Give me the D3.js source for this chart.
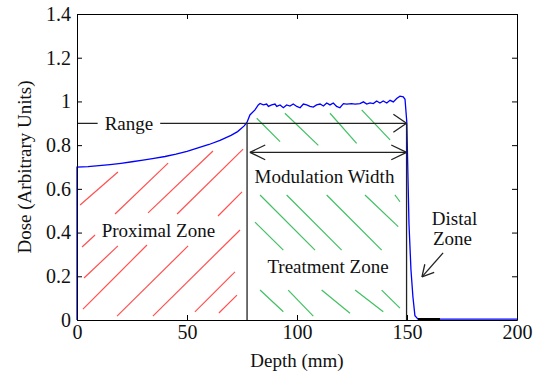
<!DOCTYPE html>
<html>
<head>
<meta charset="utf-8">
<script src="https://cdn.jsdelivr.net/npm/d3@7"></script>
<style>
  body { margin: 0; background: #fff; }
  text { font-family: "Liberation Serif", "Times New Roman", serif; fill: #111; }
</style>
</head>
<body>
<script>
// depth-dose curve
const depth = [0, 0, 5, 10, 15, 20, 25, 30, 35, 40, 45, 50, 55, 60, 65, 70, 73, 76, 77.3, 78.6, 80.9, 82.4,
  83.2, 84.7, 86.2, 87.0, 88.5, 90.0, 90.8, 92.3, 93.8, 95.3, 96.8, 98.3, 99.9, 101.4, 102.9, 104.4, 105.9,
  107.4, 108.9, 110.5, 112.0, 113.5, 115.0, 116.5, 118.0, 119.5, 121.1, 122.6, 124.8, 126.4, 128.6, 130.2,
  131.7, 133.2, 134.7, 136.2, 137.7, 139.2, 140.8, 142.3, 143.8, 145.3, 146.8, 148.3, 149.1, 149.9, 150.9,
  151.8, 152.7, 153.6, 155, 200]
const dose = [0, 0.700, 0.702, 0.706, 0.711, 0.717, 0.724, 0.731, 0.739, 0.748, 0.759, 0.772, 0.787, 0.803,
  0.822, 0.845, 0.862, 0.888, 0.905, 0.938, 0.961, 0.984,
  0.991, 0.984, 0.988, 0.977, 0.984, 0.988, 0.977, 0.984, 0.971, 0.984, 0.979, 0.988, 0.977, 0.971, 0.988,
  0.984, 0.977, 0.974, 0.984, 0.988, 0.979, 0.993, 0.984, 0.993, 0.977, 0.971, 0.990, 0.988, 0.990, 0.988,
  0.990, 0.998, 0.988, 0.993, 0.990, 1.002, 0.993, 1.002, 0.993, 1.005, 0.998, 1.013, 1.024, 1.021, 1.010,
  0.907, 0.44, 0.23, 0.105, 0.02, 0.004, 0.004]

// hatch strokes [depth1, dose1, depth2, dose2]
const proximalHatch = [
  [1.4, 0.526, 18.6, 0.677], [2.3, 0.334, 8.2, 0.389], [3.2, 0.192, 18.6, 0.339], [2.7, 0.050, 31.8, 0.343],
  [17.3, 0.485, 41.4, 0.718], [18.2, 0.018, 50.5, 0.339], [32.3, 0.490, 61.8, 0.773], [34.5, 0.018, 74.1, 0.412],
  [45.5, 0.485, 75.5, 0.782], [53.6, 0.037, 71.8, 0.220], [64.1, 0.476, 75.0, 0.586], [64.5, 0.032, 72.7, 0.114]
]
const treatmentHatch = [
  [81.7, 0.923, 92.3, 0.816], [94.5, 0.946, 109.7, 0.799], [115.0, 0.946, 127.1, 0.808], [129.4, 0.961, 142.3, 0.824],
  [83.2, 0.572, 108.2, 0.320], [80.9, 0.448, 93.8, 0.320], [95.3, 0.572, 120.3, 0.320], [113.5, 0.572, 138.5, 0.320],
  [130.9, 0.572, 146.0, 0.427], [144.5, 0.572, 146.8, 0.541],
  [83.2, 0.137, 93.8, 0.038], [96.0, 0.137, 107.4, 0.018], [111.2, 0.137, 124.1, 0.031], [126.4, 0.137, 139.2, 0.038],
  [138.5, 0.137, 146.8, 0.054]
]

const xTicks = [0, 50, 100, 150, 200]
const yTicks = [0, 0.2, 0.4, 0.6, 0.8, 1, 1.2, 1.4]

const rangeDose = 0.9
const modulationDose = 0.767
const proximalEnd = 77.3
const distalEnd = 149.8
const modulationStart = 78.6
const tailMark = [155, 165]
const distalArrow = [166.4, 0.307, 156.8, 0.197]

const labels = [
  {text: 'Modulation Width', depth: 112.5, dose: 0.625},
  {text: 'Proximal Zone', depth: 37, dose: 0.380},
  {text: 'Treatment Zone', depth: 114.1, dose: 0.215},
  {text: 'Distal', depth: 171.6, dose: 0.435},
  {text: 'Zone', depth: 170.7, dose: 0.343}
]
const rangeLabel = {text: 'Range', depth: 23.6, dose: 0.9}

const width = 537, height = 374
const plot = {left: 77, right: 517, top: 14, bottom: 320}

const svg = d3.select('body').append('svg')
  .attr('width', width)
  .attr('height', height)

const x = d3.scaleLinear().domain([0, 200]).range([plot.left, plot.right])
const y = d3.scaleLinear().domain([0, 1.4]).range([plot.bottom, plot.top])

const fmt = d => String(+d.toFixed(1))

// hatching
function drawHatch(data, color, cls) {
  svg.append('g')
    .attr('class', cls)
    .selectAll('line.' + cls)
    .data(data)
    .join('line')
      .attr('class', cls)
      .attr('x1', d => x(d[0])).attr('y1', d => y(d[1]))
      .attr('x2', d => x(d[2])).attr('y2', d => y(d[3]))
      .style('stroke', color)
      .style('stroke-width', '1.2px')
}
drawHatch(proximalHatch, '#ff5050', 'hatch-red')
drawHatch(treatmentHatch, '#40c062', 'hatch-green')

// dose curve
const line = d3.line().x((d, i) => x(depth[i])).y(d => y(d))
svg.append('path')
  .datum(dose)
  .attr('d', line)
  .attr('fill', 'none')
  .attr('stroke', '#0000ff')
  .attr('stroke-width', 1.3)

// zone boundaries
const ann = svg.append('g').attr('class', 'ann')
const annLine = () => ann.append('line').style('stroke', '#222').style('stroke-width', '1.3px')
annLine()
  .attr('x1', x(proximalEnd)).attr('x2', x(proximalEnd))
  .attr('y1', y(rangeDose)).attr('y2', y(0))
annLine()
  .attr('x1', x(distalEnd)).attr('x2', x(distalEnd))
  .attr('y1', y(rangeDose)).attr('y2', y(0))
annLine()
  .attr('x1', x(tailMark[0])).attr('x2', x(tailMark[1]))
  .attr('y1', y(0) - 1).attr('y2', y(0) - 1)
  .style('stroke', '#000').style('stroke-width', '2px')

function arrowHead(tx, ty, fx, fy, len, spread) {
  const a = Math.atan2(ty - fy, tx - fx)
  ;[-spread, spread].forEach(s => {
    annLine()
      .attr('x1', tx).attr('y1', ty)
      .attr('x2', tx - len * Math.cos(a + s))
      .attr('y2', ty - len * Math.sin(a + s))
  })
}

// range line
annLine()
  .attr('x1', x(0)).attr('x2', x(distalEnd))
  .attr('y1', y(rangeDose)).attr('y2', y(rangeDose))
arrowHead(x(distalEnd), y(rangeDose), x(0), y(rangeDose), 16, 0.6)

// modulation width
annLine()
  .attr('x1', x(modulationStart)).attr('x2', x(distalEnd))
  .attr('y1', y(modulationDose)).attr('y2', y(modulationDose))
arrowHead(x(modulationStart), y(modulationDose), x(distalEnd), y(modulationDose), 17, 0.45)
arrowHead(x(distalEnd), y(modulationDose), x(modulationStart), y(modulationDose), 17, 0.45)

// distal arrow
annLine()
  .attr('x1', x(distalArrow[0])).attr('y1', y(distalArrow[1]))
  .attr('x2', x(distalArrow[2])).attr('y2', y(distalArrow[3]))
arrowHead(x(distalArrow[2]), y(distalArrow[3]), x(distalArrow[0]), y(distalArrow[1]), 13, 0.5)

// labels
const rl = svg.append('text')
  .attr('x', x(rangeLabel.depth))
  .attr('y', y(rangeLabel.dose))
  .attr('dy', '0.35em')
  .attr('text-anchor', 'middle')
  .style('font-size', '19px')
  .text(rangeLabel.text)
const bb = rl.node().getBBox()
svg.insert('rect', 'text')
  .attr('x', bb.x - 7).attr('y', y(rangeLabel.dose) - 3)
  .attr('width', bb.width + 14).attr('height', 6)
  .attr('fill', '#fff')

svg.append('g')
  .selectAll('text')
  .data(labels)
  .join('text')
    .attr('x', d => x(d.depth))
    .attr('y', d => y(d.dose))
    .attr('text-anchor', 'middle')
    .style('font-size', '19px')
    .text(d => d.text)

// axes, boxed with inward ticks
const axisStyle = g => {
  g.selectAll('path, line').attr('stroke', '#000')
  g.selectAll('text').style('font-size', '20px').attr('fill', '#111')
  g.attr('font-family', null)
}
svg.append('g')
  .attr('transform', `translate(0,${plot.bottom})`)
  .call(d3.axisBottom(x).tickValues(xTicks).tickSizeInner(-5).tickSizeOuter(0).tickPadding(5).tickFormat(fmt))
  .call(axisStyle)
svg.append('g')
  .attr('transform', `translate(0,${plot.top})`)
  .call(d3.axisTop(x).tickValues(xTicks).tickSizeInner(-5).tickSizeOuter(0).tickFormat(''))
  .call(axisStyle)
svg.append('g')
  .attr('transform', `translate(${plot.left},0)`)
  .call(d3.axisLeft(y).tickValues(yTicks).tickSizeInner(-5).tickSizeOuter(0).tickPadding(6).tickFormat(fmt))
  .call(axisStyle)
svg.append('g')
  .attr('transform', `translate(${plot.right},0)`)
  .call(d3.axisRight(y).tickValues(yTicks).tickSizeInner(-5).tickSizeOuter(0).tickFormat(''))
  .call(axisStyle)

svg.append('text')
  .attr('x', (plot.left + plot.right) / 2)
  .attr('y', 367)
  .attr('text-anchor', 'middle')
  .style('font-size', '19px')
  .text('Depth (mm)')

svg.append('text')
  .attr('transform', `translate(31,${(plot.top + plot.bottom) / 2}) rotate(-90)`)
  .attr('text-anchor', 'middle')
  .style('font-size', '19px')
  .text('Dose (Arbitrary Units)')
</script>
</body>
</html>
